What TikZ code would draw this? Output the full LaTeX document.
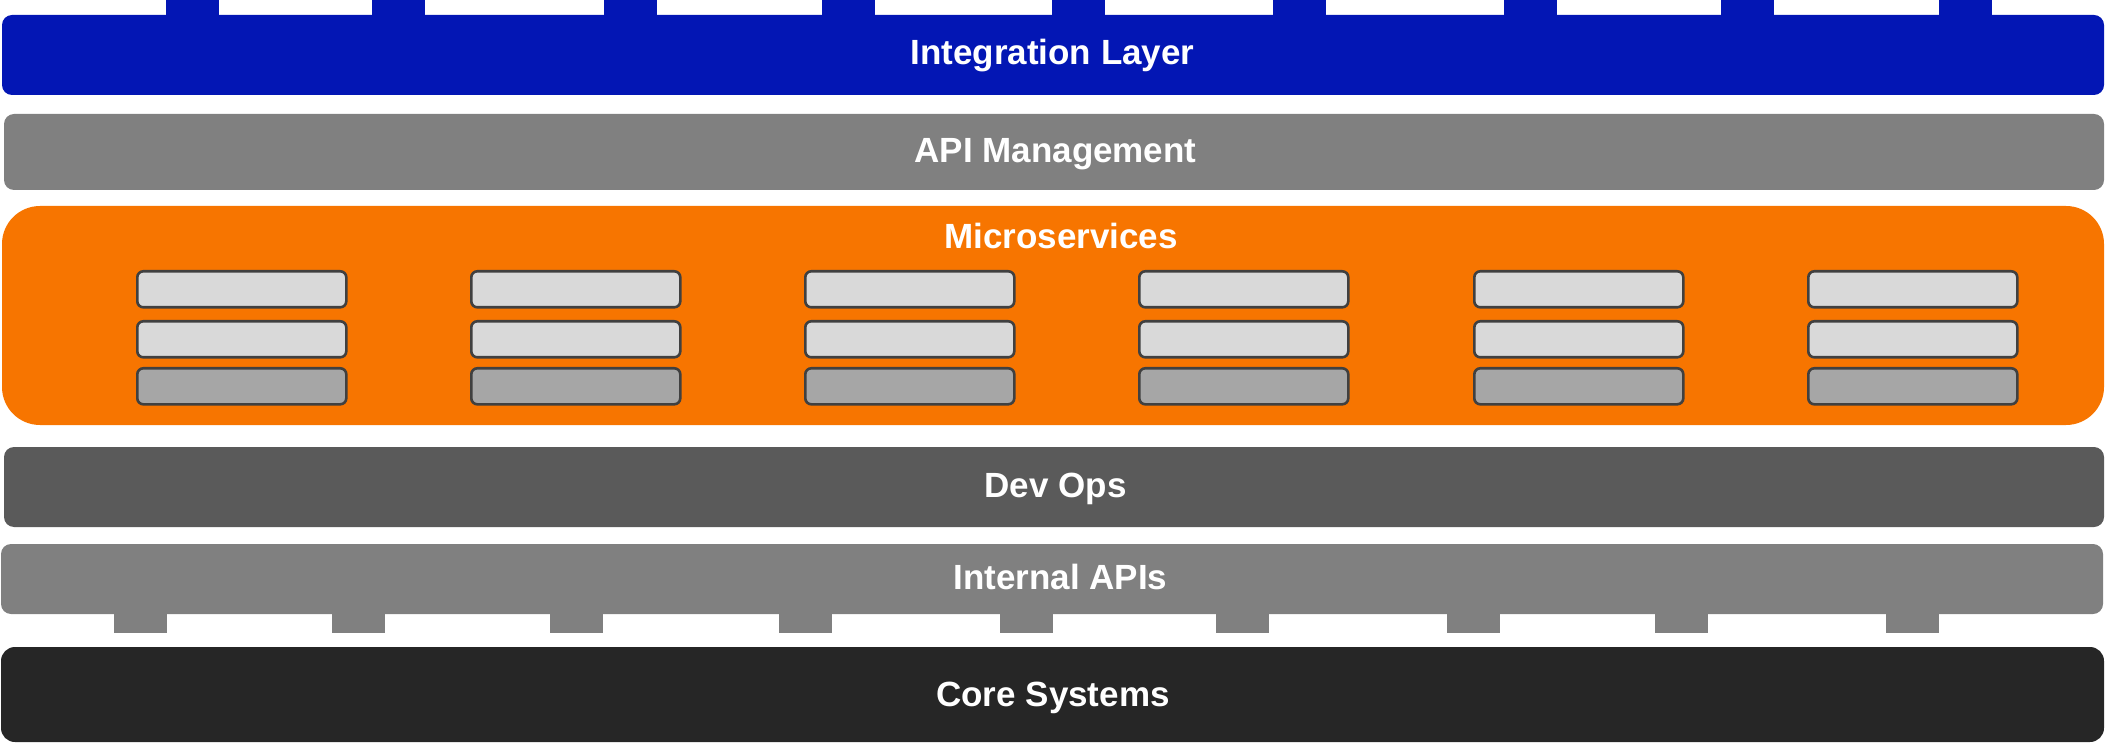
\documentclass[tikz,border=0pt]{standalone}
\usepackage{fontspec}
\setmainfont{Liberation Sans}
\definecolor{intblue}{RGB}{3,22,180}
\definecolor{apigray}{RGB}{128,128,128}
\definecolor{msorange}{RGB}{247,117,0}
\definecolor{devgray}{RGB}{90,90,90}
\definecolor{coreblack}{RGB}{38,38,38}
\definecolor{boxlight}{RGB}{217,217,217}
\definecolor{boxdark}{RGB}{166,166,166}
\definecolor{boxline}{RGB}{64,64,64}
\tikzset{
  bar/.style={rectangle, rounded corners=10pt, inner sep=0pt, outer sep=0pt},
  svc/.style={rectangle, rounded corners=6pt, draw=boxline, line width=2.6pt, inner sep=0pt,
    minimum width=209pt, minimum height=36pt},
  svclight/.style={svc, fill=boxlight},
  svcdark/.style={svc, fill=boxdark},
  lbl/.style={text=white, font=\fontsize{35}{40}\selectfont\bfseries, inner sep=0pt,
    text height=25pt, text depth=0pt}
}
\begin{document}
\begin{tikzpicture}[x=1pt,y=-1pt]
\useasboundingbox (0,0) rectangle (2105,743);
% top tabs
\foreach \tx [count=\i] in {166,372,604,822,1052,1273,1504,1721,1939}{
  \fill[intblue] (\tx,0) rectangle ++(53,20);
}
\node[bar, fill=intblue, minimum width=2102pt, minimum height=80pt] (integ) at (1053,55) {};
\node[lbl] (integlbl) at (1052.5,52.5) {Integration Layer};
\node[bar, fill=apigray, minimum width=2100pt, minimum height=76pt] (api) at (1054,152) {};
\node[lbl] (apilbl) at (1055.5,150) {API Management};
\node[bar, fill=msorange, rounded corners=38pt, minimum width=2102pt, minimum height=219pt] (micro) at (1053,315.5) {};
\node[lbl] (microlbl) at (1061,236.5) {Microservices};
\foreach \cx [count=\c] in {136,470,804,1138,1473,1807}{
  \node[svclight, anchor=north west] (s\c a) at (\cx,270) {};
  \node[svclight, anchor=north west] (s\c b) at (\cx,320) {};
  \node[svcdark, anchor=north west] (s\c c) at (\cx,367) {};
}
\node[bar, fill=devgray, minimum width=2100pt, minimum height=80pt] (devops) at (1054,487) {};
\node[lbl] (devopslbl) at (1055.5,484.5) {Dev Ops};
% bottom tabs
\foreach \tx [count=\i] in {114,332,550,779,1000,1216,1447,1655,1886}{
  \fill[apigray] (\tx,600) rectangle ++(53,33);
}
\node[bar, fill=apigray, minimum width=2102pt, minimum height=70pt] (internal) at (1052,579) {};
\node[lbl] (internallbl) at (1060.5,577) {Internal APIs};
\node[bar, fill=coreblack, rounded corners=14pt, minimum width=2103pt, minimum height=95pt] (core) at (1052.5,694.5) {};
\node[lbl] (corelbl) at (1053,693.5) {Core Systems};
\end{tikzpicture}
\end{document}
